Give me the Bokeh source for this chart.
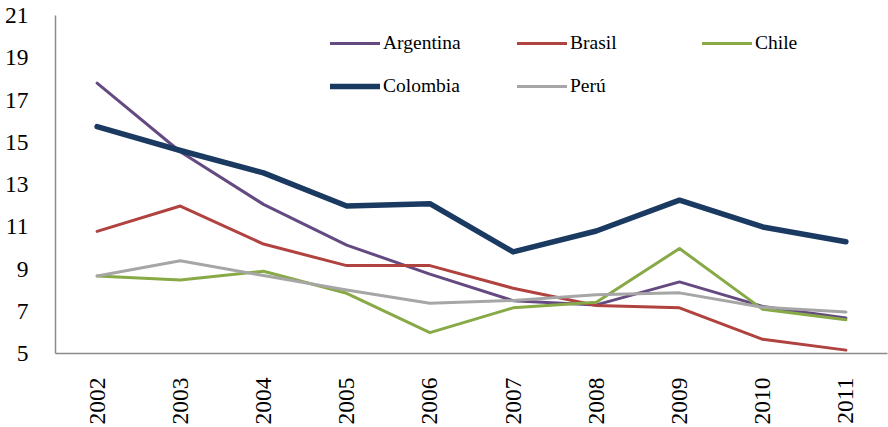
from bokeh.plotting import figure
from bokeh.models import FactorRange, Range1d, FixedTicker, Legend, LegendItem
from bokeh.embed import file_html
from bokeh.resources import INLINE
import math

years = ["2002", "2003", "2004", "2005", "2006", "2007", "2008", "2009", "2010", "2011"]
argentina = [17.8, 14.55, 12.06, 10.13, 8.76, 7.5, 7.3, 8.39, 7.23, 6.68]
brasil = [10.78, 11.98, 10.18, 9.16, 9.16, 8.09, 7.27, 7.16, 5.67, 5.16]
chile = [8.67, 8.48, 8.89, 7.85, 5.99, 7.16, 7.43, 9.97, 7.09, 6.6]
colombia = [15.74, 14.61, 13.55, 11.98, 12.09, 9.81, 10.8, 12.26, 10.99, 10.29]
peru = [8.67, 9.39, 8.69, 8.01, 7.38, 7.51, 7.78, 7.87, 7.19, 6.96]
y_ticks = [5, 7, 9, 11, 13, 15, 17, 19, 21]

FONT = "Liberation Serif"

p = figure(width=888, height=427, x_range=FactorRange(*years), y_range=Range1d(5, 21),
           output_backend="svg", toolbar_location=None,
           min_border_left=55, min_border_right=1, min_border_top=15, min_border_bottom=72)
p.outline_line_color = None
p.xgrid.grid_line_color = None
p.ygrid.grid_line_color = None
p.background_fill_color = "white"
p.border_fill_color = "white"

for ax in (p.xaxis[0], p.yaxis[0]):
    ax.axis_line_color = "#8a8a8a"
    ax.axis_line_width = 1.5
    ax.major_tick_line_color = None
    ax.minor_tick_line_color = None
    ax.major_label_text_font = FONT
    ax.major_label_text_font_size = "23.5px"
    ax.major_label_text_color = "black"

p.yaxis.ticker = FixedTicker(ticks=y_ticks)
p.yaxis.major_label_standoff = 21
p.xaxis.major_label_orientation = math.pi / 2
p.xaxis.major_label_standoff = 18

series = [
    ("Argentina", argentina, "#654a82", 3),
    ("Brasil", brasil, "#b0423f", 3),
    ("Chile", chile, "#87a946", 3),
    ("Colombia", colombia, "#1b3a62", 5.5),
    ("Perú", peru, "#a6a6a6", 3),
]
renderers = {}
for name, vals, color, w in series:
    renderers[name] = p.line(years, vals, line_color=color, line_width=w, line_cap="round", line_join="round")

positions = {
    "Argentina": (275, 299),
    "Brasil": (462, 299),
    "Chile": (647, 299),
    "Colombia": (275, 256),
    "Perú": (462, 256),
}
for name, _, _, _ in series:
    lg = Legend(items=[LegendItem(label=name, renderers=[renderers[name]])],
                location=positions[name], border_line_color=None, background_fill_alpha=0,
                padding=0, margin=0, spacing=0, glyph_width=50, glyph_height=20,
                label_height=20, label_standoff=3, label_text_font=FONT,
                label_text_font_size="19.5px", label_text_color="black")
    p.add_layout(lg, "center")

open("out.html", "w").write(file_html(p, INLINE))
